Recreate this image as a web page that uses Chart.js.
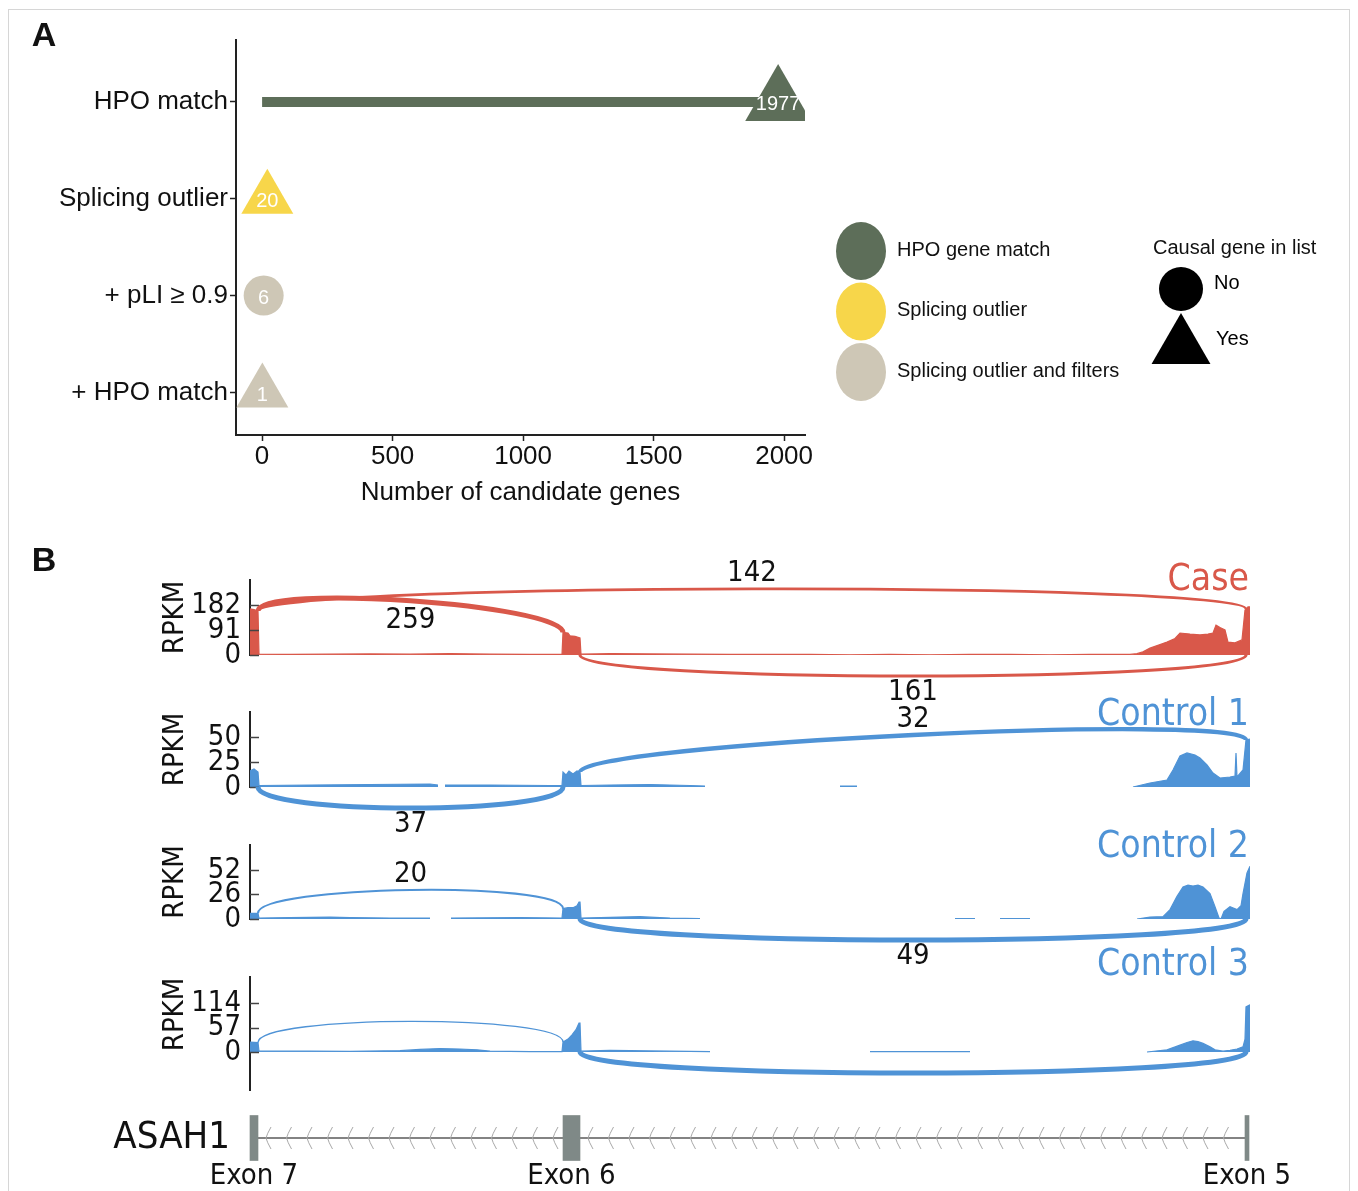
<!DOCTYPE html>
<html>
<head>
<meta charset="utf-8">
<script src="https://cdn.jsdelivr.net/npm/chart.js@4.4.1/dist/chart.umd.min.js"></script>
<style>
html, body { margin: 0; padding: 0; background: #fff; }
#page { position: relative; width: 1358px; height: 1191px; overflow: hidden; }
#frame { position: absolute; left: 8px; top: 9px; width: 1342px; height: 1200px; border: 1px solid #d6d6d6; box-sizing: border-box; }
canvas { position: absolute; left: 0; }
</style>
</head>
<body>
<div id="page"><div id="frame"></div></div>
<script>
// panel A - candidate genes per filtering step
const steps = ['HPO match', 'Splicing outlier', '+ pLI \u2265 0.9', '+ HPO match'];
const geneCounts = [1977, 20, 6, 1];
const stepGroup = ['HPO gene match', 'Splicing outlier', 'Splicing outlier and filters', 'Splicing outlier and filters'];
const causalInList = ['Yes', 'Yes', 'No', 'Yes'];
const groupNames = ['HPO gene match', 'Splicing outlier', 'Splicing outlier and filters'];
const causalNames = ['No', 'Yes'];
const countTicks = [0, 500, 1000, 1500, 2000];

// panel B - sashimi plot of ASAH1 (relative position, exon 7 -> exon 5)
const exonNames = ['Exon 7', 'Exon 6', 'Exon 5'];
const exonStart = [0, 313, 995];
const exonEnd = [8, 330, 999];
const trackNames = ['Case', 'Control 1', 'Control 2', 'Control 3'];

const caseCoverage = [[0,168],[4,165],[8,160],[9,3],[40,2],[80,3],[120,4],[160,3],[200,5],[240,3],[280,2],[312,2],[313,82],[318,80],[320,70],[325,68],[330,62],[331,3],[360,5],[400,4],[440,3],[480,2],[520,2],[560,2],[600,1],[640,2],[680,1],[720,2],[760,2],[800,1],[840,2],[880,2],[887,5],[893,12],[900,25],[910,38],[917,47],[925,60],[930,80],[940,76],[950,73],[958,76],[963,80],[966,109],[970,100],[975,91],[978,47],[985,44],[992,55],[995,164],[998,175],[1000,175]];
const control1Coverage = [[0,16],[4,18],[8,15],[9,1.5],[60,2],[120,2.5],[180,3],[188,2],[189,null],[194,null],[195,2],[240,2],[300,1.5],[312,1.5],[313,15],[316,12],[319,16],[323,13],[327,16],[330,15],[331,1.5],[360,2],[400,2.5],[440,1.5],[455,1],[456,null],[590,1],[607,1],[608,null],[883,0],[900,4],[917,7],[923,17],[930,31],[937,34],[945,32],[950,29],[957,22],[963,14],[970,9],[980,10],[985,11],[986,34],[987,10],[993,17],[996,47],[1000,48]];
const control2Coverage = [[0,6],[8,6],[9,1],[40,1.5],[80,2],[100,1.5],[140,1],[180,1],[181,null],[200,null],[201,1],[270,1.5],[312,1],[313,11],[318,12],[323,12],[327,14],[329,18],[330,18],[331,1],[370,2],[390,2.5],[420,1],[450,0.5],[451,null],[705,0.5],[725,0.5],[726,null],[750,0.5],[780,0.5],[781,null],[887,0],[900,2],[913,2.5],[920,10],[927,24],[933,34],[938,36],[943,35],[948,36],[953,34],[960,27],[965,13],[969,1],[971,0],[974,8],[980,13],[987,10],[991,14],[993,27],[997,49],[1000,56]];
const control3Coverage = [[0,23],[8,22],[9,2],[60,2],[100,1.5],[150,3],[170,6],[190,8],[210,7],[227,5],[240,2],[280,1],[312,1],[313,23],[318,30],[322,40],[326,52],[329,67],[330,67],[331,2],[360,4],[380,3],[420,2],[460,1],[461,null],[620,1],[720,1],[721,null],[897,0],[917,5],[930,16],[937,22],[943,26],[948,24],[953,20],[960,12],[965,5],[973,2],[980,4],[987,7],[993,12],[995,30],[996,105],[1000,110]];

const caseTicks = [0, 91, 182];
const control1Ticks = [0, 25, 50];
const control2Ticks = [0, 26, 52];
const control3Ticks = [0, 57, 114];

// junctions: [from, to, reads]
const caseJunctions = [[8, 313, 259], [8, 996, 142], [330, 996, 161]];
const control1Junctions = [[330, 996, 32], [8, 313, 37]];
const control2Junctions = [[8, 313, 20], [330, 996, 49]];
const control3Junctions = [[8, 313, 14], [330, 996, 52]];

// styles
const groupColors = {'HPO gene match': '#5d6e59', 'Splicing outlier': '#f7d64a', 'Splicing outlier and filters': '#cec7b6'};
const markerRadius = [38, 30, 20, 30];
const RED = '#d9584a';
const BLUE = '#4f93d6';
const INK = '#111';

function hasFont(name) {
    const c = document.createElement('canvas').getContext('2d');
    const s = 'mmmWWWiiilll0123456789';
    c.font = '40px monospace';
    const w0 = c.measureText(s).width;
    c.font = '40px "' + name + '", monospace';
    return c.measureText(s).width !== w0;
}
const fontA = hasFont('Liberation Sans Narrow') ? {family: '"Liberation Sans Narrow"', k: 1} : {family: '"Liberation Sans", Arial, sans-serif', k: 0.84};
const fontB = hasFont('DejaVu Sans Condensed') ? {family: '"DejaVu Sans Condensed"', k: 1} : {family: '"DejaVu Sans", sans-serif', k: 0.9};
const sA = n => Math.round(n * fontA.k);
const sB = n => Math.round(n * fontB.k);

const page = document.getElementById('page');
function makeCanvas(top, height) {
    const c = document.createElement('canvas');
    c.width = 1358;
    c.height = height;
    c.style.top = top + 'px';
    page.appendChild(c);
    return c;
}

//chart - panel A
const legendA = {
    id: 'legendA',
    afterDraw(chart) {
        const ctx = chart.ctx;
        ctx.save();
        ctx.textBaseline = 'middle';
        ctx.fillStyle = INK;
        ctx.font = 'bold ' + sA(40) + 'px ' + fontA.family;
        ctx.textAlign = 'center';
        ctx.fillText('A', 44, 37);
        ctx.fillText('B', 44, 562);

        ctx.textAlign = 'left';
        ctx.font = sA(24) + 'px ' + fontA.family;
        groupNames.forEach((g, i) => {
            const cy = 251 + i * 60.5;
            ctx.fillStyle = groupColors[g];
            ctx.beginPath();
            ctx.ellipse(861, cy, 25, 29, 0, 0, Math.PI * 2);
            ctx.fill();
            ctx.fillStyle = INK;
            ctx.fillText(g, 897, cy - 1);
        });

        ctx.fillText('Causal gene in list', 1153, 248);
        ctx.fillStyle = '#000';
        causalNames.forEach((c, i) => {
            const style = c === 'Yes' ? 'triangle' : 'circle';
            const r = c === 'Yes' ? 34 : 22;
            const cy = c === 'Yes' ? 347 : 289;
            Chart.helpers.drawPoint(ctx, {pointStyle: style, radius: r, rotation: 0, borderWidth: 0}, 1181, cy);
            ctx.fillText(c, c === 'Yes' ? 1216 : 1214, c === 'Yes' ? 339 : 283);
        });
        ctx.restore();
    }
};

const markerLabels = {
    id: 'markerLabels',
    afterDatasetsDraw(chart) {
        const {ctx, scales: {x, y}} = chart;
        ctx.save();
        ctx.fillStyle = '#fff';
        ctx.font = sA(24) + 'px ' + fontA.family;
        ctx.textAlign = 'center';
        ctx.textBaseline = 'middle';
        geneCounts.forEach((c, i) => {
            ctx.fillText(String(c), x.getPixelForValue(c), y.getPixelForValue(i) + 3);
        });
        ctx.restore();
    }
};

const axisA = {
    border: {color: '#222', width: 2},
    grid: {drawOnChartArea: false, color: '#222', tickLength: 6, tickWidth: 1.5}
};

new Chart(makeCanvas(0, 600), {
    type: 'scatter',
    data: {
        datasets: [
            ...steps.map((s, i) => ({
                type: 'line',
                label: s,
                data: [{x: 0, y: i}, {x: geneCounts[i], y: i}],
                borderColor: groupColors[stepGroup[i]],
                borderWidth: 10,
                borderCapStyle: 'butt',
                pointRadius: 0,
                showLine: true
            })),
            {
                type: 'scatter',
                data: geneCounts.map((c, i) => ({x: c, y: i})),
                pointStyle: causalInList.map(c => c === 'Yes' ? 'triangle' : 'circle'),
                pointRadius: markerRadius,
                pointHoverRadius: markerRadius,
                pointBackgroundColor: stepGroup.map(g => groupColors[g]),
                pointBorderWidth: 0
            }
        ]
    },
    options: {
        responsive: false,
        animation: false,
        devicePixelRatio: 1,
        layout: {padding: {top: 40, right: 553, bottom: 80, left: 0}},
        plugins: {legend: {display: false}, tooltip: {enabled: false}},
        scales: {
            x: {
                type: 'linear',
                min: -100,
                max: 2080,
                afterBuildTicks: s => { s.ticks = countTicks.map(v => ({value: v})); },
                afterFit: s => { s.height = 85; },
                ...axisA,
                ticks: {
                    padding: 0,
                    color: INK,
                    autoSkip: false,
                    maxRotation: 0,
                    font: {family: fontA.family, size: sA(31)},
                    callback: v => String(v)
                },
                title: {
                    display: true,
                    text: 'Number of candidate genes',
                    color: INK,
                    font: {family: fontA.family, size: sA(31)},
                    padding: {top: 0, bottom: 12}
                }
            },
            y: {
                type: 'linear',
                reverse: true,
                min: -0.64,
                max: 3.44,
                afterBuildTicks: s => { s.ticks = steps.map((_, i) => ({value: i})); },
                afterFit: s => { s.width = 236; },
                ...axisA,
                ticks: {
                    padding: 2,
                    color: INK,
                    autoSkip: false,
                    font: {family: fontA.family, size: sA(31)},
                    callback: v => steps[v]
                }
            }
        }
    },
    plugins: [markerLabels, legendA]
});

//chart - panel B tracks
const trackData = [
    {coverage: caseCoverage, ticks: caseTicks, junctions: caseJunctions, sides: [1, 1, -1], color: RED, counts: true},
    {coverage: control1Coverage, ticks: control1Ticks, junctions: control1Junctions, sides: [1, -1], color: BLUE, counts: true},
    {coverage: control2Coverage, ticks: control2Ticks, junctions: control2Junctions, sides: [1, -1], color: BLUE, counts: true},
    {coverage: control3Coverage, ticks: control3Ticks, junctions: control3Junctions, sides: [1, -1], color: BLUE, counts: false}
];
const trackLayout = [
    {top: 580, bottom: 655, min: 0, max: 273, nameDy: 0},
    {top: 712, bottom: 787, min: 0, max: 75, nameDy: 3},
    {top: 845, bottom: 919, min: 0, max: 78.5, nameDy: 2},
    {top: 977, bottom: 1090, min: -88.4, max: 174.5, nameDy: -12}
];
const PAD = 60;
const ARC_H = 28;

function coverageAt(cov, x) {
    for (let i = 1; i < cov.length; i++) {
        const [x0, y0] = cov[i - 1];
        const [x1, y1] = cov[i];
        if (x >= x0 && x <= x1 && y0 != null && y1 != null) {
            return x1 === x0 ? y1 : y0 + (y1 - y0) * (x - x0) / (x1 - x0);
        }
    }
    return 0;
}

function sashimiPlugin(ti) {
    const t = trackData[ti];
    const lay = trackLayout[ti];
    return {
        id: 'sashimi' + ti,
        afterDatasetsDraw(chart) {
            const {ctx, chartArea, scales: {x, y}} = chart;
            const maxReads = Math.max(...t.junctions.map(j => j[2]));
            ctx.save();

            // inward tick marks
            ctx.strokeStyle = '#444';
            ctx.lineWidth = 1.5;
            t.ticks.forEach(v => {
                const py = Math.round(y.getPixelForValue(v)) + 0.5;
                ctx.beginPath();
                ctx.moveTo(chartArea.left, py);
                ctx.lineTo(chartArea.left + 9, py);
                ctx.stroke();
            });

            // junction arcs
            ctx.strokeStyle = t.color;
            ctx.lineCap = 'butt';
            const arcs = t.junctions.map(([a, b, n], k) => {
                const s = t.sides[k];
                const x1 = x.getPixelForValue(a);
                const x2 = x.getPixelForValue(b);
                const y1 = y.getPixelForValue(s > 0 ? coverageAt(t.coverage, a) : 0);
                const y2 = y.getPixelForValue(s > 0 ? coverageAt(t.coverage, b) : 0);
                ctx.lineWidth = Math.max(1.3, 5 * n / maxReads);
                ctx.beginPath();
                ctx.moveTo(x1, y1);
                ctx.bezierCurveTo(x1, y1 - s * ARC_H, x2, y2 - s * ARC_H, x2, y2);
                ctx.stroke();
                return {a, b, n, s, xm: (x1 + x2) / 2, peak: (y1 + y2) / 2 - s * 0.75 * ARC_H};
            });

            // read counts
            if (t.counts) {
                ctx.fillStyle = INK;
                ctx.font = sB(29) + 'px ' + fontB.family;
                ctx.textAlign = 'center';
                ctx.textBaseline = 'middle';
                arcs.forEach(arc => {
                    const nested = arc.s > 0 && arcs.some(o => o !== arc && o.s > 0 && o.a <= arc.a && o.b >= arc.b);
                    const ly = nested ? arc.peak + 20 : arc.peak - arc.s * 16;
                    ctx.fillText(String(arc.n), arc.xm, ly);
                });
            }

            // track name and axis title
            ctx.fillStyle = t.color;
            ctx.font = sB(37) + 'px ' + fontB.family;
            ctx.textAlign = 'right';
            ctx.textBaseline = 'middle';
            ctx.fillText(trackNames[ti], chartArea.right - 1, chartArea.top + lay.nameDy);

            ctx.fillStyle = INK;
            ctx.font = sB(29) + 'px ' + fontB.family;
            ctx.textAlign = 'center';
            ctx.translate(175, (chartArea.top + y.getPixelForValue(0)) / 2);
            ctx.rotate(-Math.PI / 2);
            ctx.fillText('RPKM', 0, 0);
            ctx.restore();
        }
    };
}

trackData.forEach((t, ti) => {
    const lay = trackLayout[ti];
    const h = lay.bottom - lay.top;
    new Chart(makeCanvas(lay.top - PAD, h + PAD * 2), {
        type: 'line',
        data: {
            datasets: [{
                data: t.coverage.map(([px, v]) => ({x: px, y: v})),
                borderColor: t.color,
                backgroundColor: t.color,
                borderWidth: 1.2,
                fill: 'origin',
                pointRadius: 0,
                tension: 0,
                spanGaps: false
            }]
        },
        options: {
            responsive: false,
            animation: false,
            devicePixelRatio: 1,
            layout: {padding: {top: PAD, bottom: PAD, left: 0, right: 108}},
            plugins: {legend: {display: false}, tooltip: {enabled: false}},
            scales: {
                x: {type: 'linear', min: 0, max: 1000, display: false},
                y: {
                    type: 'linear',
                    min: lay.min,
                    max: lay.max,
                    afterBuildTicks: s => { s.ticks = t.ticks.map(v => ({value: v})); },
                    afterFit: s => { s.width = 250; },
                    border: {display: true, color: '#222', width: 2},
                    grid: {display: false, drawTicks: false},
                    ticks: {
                        padding: 9,
                        color: INK,
                        autoSkip: false,
                        font: {family: fontB.family, size: sB(29)},
                        callback: v => String(v)
                    }
                }
            }
        },
        plugins: [sashimiPlugin(ti)]
    });
});

//chart - gene model
const geneModel = {
    id: 'geneModel',
    beforeDatasetsDraw(chart) {
        const {ctx, scales: {x, y}} = chart;
        const cy = y.getPixelForValue(0);
        ctx.save();
        ctx.strokeStyle = '#5a5a5a';
        ctx.lineWidth = 1.5;
        ctx.beginPath();
        ctx.moveTo(x.getPixelForValue(exonEnd[0]), cy);
        ctx.lineTo(x.getPixelForValue(exonStart[exonStart.length - 1]), cy);
        ctx.stroke();
        ctx.strokeStyle = '#a8a8a8';
        ctx.lineWidth = 1;
        for (let e = 0; e < exonStart.length - 1; e++) {
            const from = x.getPixelForValue(exonEnd[e]) + 8;
            const to = x.getPixelForValue(exonStart[e + 1]) - 8;
            for (let px = from; px <= to; px += 20.5) {
                ctx.beginPath();
                ctx.moveTo(px + 5, cy - 11);
                ctx.quadraticCurveTo(px + 1, cy - 4, px, cy);
                ctx.quadraticCurveTo(px + 1, cy + 4, px + 5, cy + 11);
                ctx.stroke();
            }
        }
        ctx.restore();
    },
    afterDatasetsDraw(chart) {
        const {ctx, scales: {x, y}} = chart;
        ctx.save();
        ctx.fillStyle = INK;
        ctx.font = sB(29) + 'px ' + fontB.family;
        ctx.textAlign = 'center';
        ctx.textBaseline = 'middle';
        exonNames.forEach((n, i) => {
            ctx.fillText(n, x.getPixelForValue((exonStart[i] + exonEnd[i]) / 2), y.getPixelForValue(0) + 38);
        });
        ctx.restore();
    }
};

new Chart(makeCanvas(1085, 106), {
    type: 'bar',
    data: {
        labels: ['ASAH1'],
        datasets: [{
            data: exonStart.map((s, i) => ({x: [s, exonEnd[i]], y: 'ASAH1'})),
            backgroundColor: '#7f8987',
            borderWidth: 0,
            barThickness: 45,
            grouped: false,
            clip: false
        }]
    },
    options: {
        indexAxis: 'y',
        responsive: false,
        animation: false,
        devicePixelRatio: 1,
        layout: {padding: {top: 27, bottom: 33, left: 0, right: 108}},
        plugins: {legend: {display: false}, tooltip: {enabled: false}},
        scales: {
            x: {type: 'linear', min: 0, max: 1000, display: false},
            y: {
                type: 'category',
                afterFit: s => { s.width = 250; },
                border: {display: false},
                grid: {display: false, drawTicks: false},
                ticks: {padding: 20, color: INK, font: {family: fontB.family, size: sB(38)}}
            }
        }
    },
    plugins: [geneModel]
});
</script>
</body>
</html>
